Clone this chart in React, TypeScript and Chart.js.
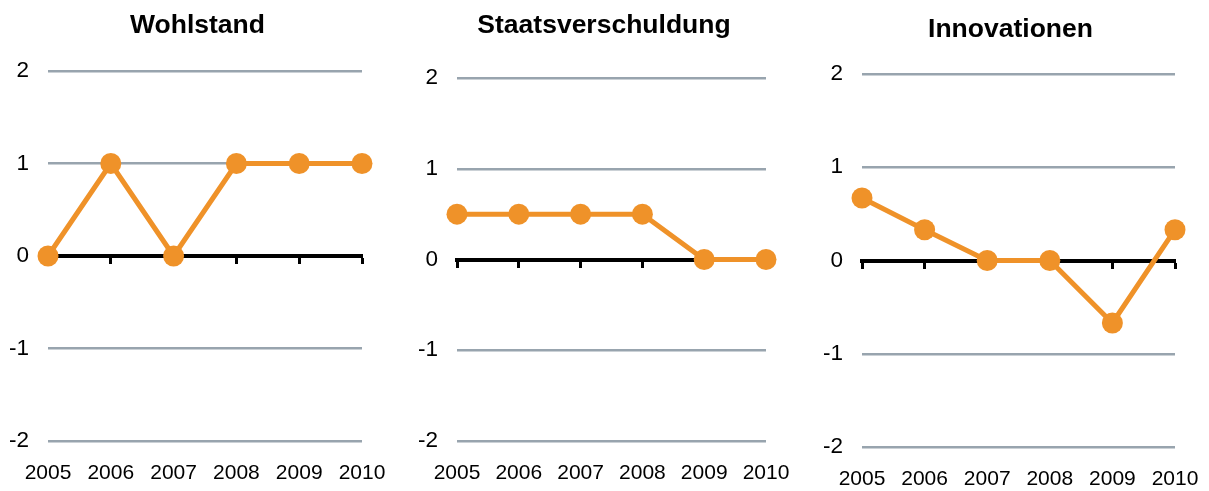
import React, { useEffect, useRef } from "react";
import { Chart, registerables } from "chart.js";

Chart.register(...registerables);

const years = ["2005", "2006", "2007", "2008", "2009", "2010"];
const wohlstand = [0, 1, 0, 1, 1, 1];
const staatsverschuldung = [0.5, 0.5, 0.5, 0.5, 0, 0];
const innovationen = [0.67, 0.33, 0, 0, -0.67, 0.33];
const titles = ["Wohlstand", "Staatsverschuldung", "Innovationen"];

const ORANGE = "#EF9229";
const GRID = "#98A4AE";
const FONT = "'Liberation Sans', Arial, sans-serif";
const TITLE_SIZE = 26.5;
const TICK_SIZE = 21;
const YTICK_SIZE = 22.5;

type Layout = {
  left: number; width: number; titleCenter: number; areaLeft: number; areaRight: number;
  areaTop: number; areaBottom: number; titleTop: number; labelOffset: number;
};

const layouts: Layout[] = [
  { left: 0, width: 395, titleCenter: 197.5, areaLeft: 48, areaRight: 362, areaTop: 71, areaBottom: 441, titleTop: 10, labelOffset: 32 },
  { left: 400, width: 408, titleCenter: 604, areaLeft: 457, areaRight: 766, areaTop: 78, areaBottom: 441, titleTop: 10, labelOffset: 32 },
  { left: 812, width: 397, titleCenter: 1010.5, areaLeft: 862, areaRight: 1175, areaTop: 74, areaBottom: 447, titleTop: 14, labelOffset: 32 },
];

const H = 491;

function Panel({ title, values, lay }: { title: string; values: number[]; lay: Layout }) {
  const ref = useRef<HTMLCanvasElement>(null);
  useEffect(() => {
    if (!ref.current) return;
    const titleBox = TITLE_SIZE * 1.2;
    const padR = lay.left + lay.width - lay.areaRight;
    const yWidth = lay.areaLeft - lay.left;
    const centerTitle = {
      id: "centerTitle",
      afterLayout(chart: any) {
        const tb = chart.titleBlock;
        if (!tb) return;
        const c = lay.titleCenter - lay.left;
        const half = Math.min(c, lay.width - c);
        tb.left = c - half;
        tb.right = c + half;
        tb.width = 2 * half;
      },
    };
    const chart = new Chart(ref.current, {
      type: "line",
      data: {
        labels: years,
        datasets: [
          {
            data: values,
            borderColor: ORANGE,
            backgroundColor: ORANGE,
            borderWidth: 5,
            pointRadius: 10.5,
            pointBackgroundColor: ORANGE,
            pointBorderWidth: 0,
            tension: 0,
            clip: false,
          } as any,
        ],
      },
      plugins: [centerTitle],
      options: {
        animation: false,
        responsive: false,
        maintainAspectRatio: false,
        layout: {
          padding: { left: 0, top: 0, bottom: 0, right: padR },
        },
        plugins: {
          legend: { display: false },
          tooltip: { enabled: false },
          title: {
            display: true,
            text: title,
            color: "#000",
            font: { family: FONT, size: TITLE_SIZE, weight: "bold", lineHeight: 1.2 },
            padding: { top: lay.titleTop, bottom: lay.areaTop - lay.titleTop - titleBox },
          },
        },
        scales: {
          x: {
            type: "category",
            position: "bottom",
            offset: false,
            grid: { display: false, drawTicks: false },
            border: { display: false },
            ticks: {
              color: "#000",
              font: { family: FONT, size: TICK_SIZE, lineHeight: (2 * lay.labelOffset) / TICK_SIZE },
              padding: 0,
              maxRotation: 0,
              autoSkip: false,
            },
            afterFit: (s: any) => { s.height = H - lay.areaBottom; },
          },
          x0: {
            type: "category",
            position: { y: 0 } as any,
            offset: false,
            grid: {
              display: true,
              drawOnChartArea: false,
              drawTicks: true,
              tickLength: 6,
              tickWidth: 3,
              tickColor: "#000",
            },
            border: { display: true, color: "#000", width: 4 },
            ticks: { display: false },
          },
          y: {
            type: "linear",
            min: -2,
            max: 2,
            ticks: {
              stepSize: 1,
              color: "#000",
              font: { family: FONT, size: YTICK_SIZE },
              padding: 19,
            },
            grid: {
              drawTicks: false,
              color: (ctx: any) => (ctx.tick && ctx.tick.value === 0 ? "rgba(0,0,0,0)" : GRID),
              lineWidth: 2.5,
            },
            border: { display: false },
            afterFit: (s: any) => { s.width = yWidth; },
          },
        },
      } as any,
    });
    return () => chart.destroy();
  }, []);
  return (
    <div style={{ position: "absolute", left: lay.left, top: 0, width: lay.width, height: H }}>
      <canvas ref={ref} width={lay.width} height={H} style={{ width: lay.width, height: H, display: "block" }} />
    </div>
  );
}

export default function App() {
  const series = [wohlstand, staatsverschuldung, innovationen];
  return (
    <div style={{ position: "absolute", left: 0, top: 0, width: 1209, height: H, background: "#fff" }}>
      {series.map((v, i) => (
        <Panel key={i} title={titles[i]} values={v} lay={layouts[i]} />
      ))}
    </div>
  );
}
